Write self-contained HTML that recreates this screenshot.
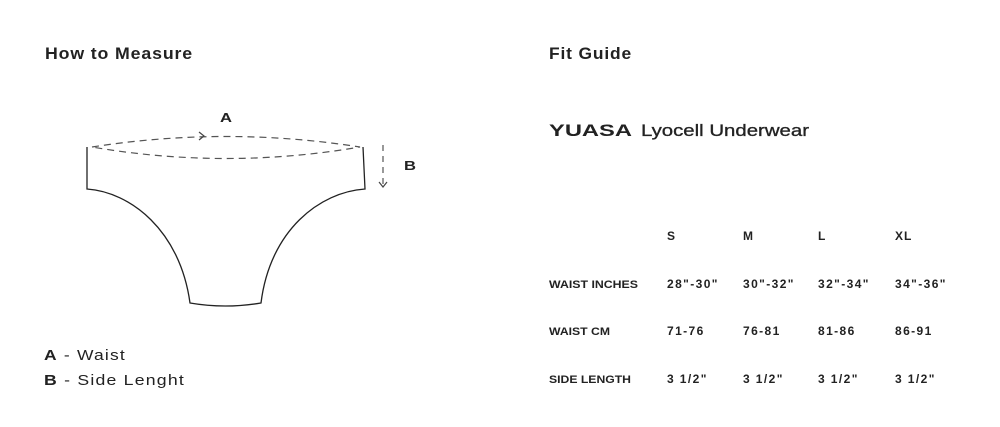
<!DOCTYPE html>
<html><head><meta charset="utf-8"><style>
html,body{margin:0;padding:0;background:#fff;}
svg{display:block;}
text{font-family:"Liberation Sans",Arial,sans-serif;fill:#222;}
</style></head><body>
<svg width="1000" height="427" viewBox="0 0 1000 427" xmlns="http://www.w3.org/2000/svg">
<text x="45" y="59" font-size="16.5" font-weight="bold" letter-spacing="0.8" textLength="148" lengthAdjust="spacingAndGlyphs" fill="#2a2a2a">How to Measure</text>
<text x="549" y="59" font-size="16.5" font-weight="bold" letter-spacing="0.8" textLength="83" lengthAdjust="spacingAndGlyphs" fill="#2a2a2a">Fit Guide</text>

<g fill="none" stroke="#222" stroke-width="1.3">
<path d="M87,147 L87,189 C130,192 180,230 190,303 Q225,309 261,303 C270,230 320,192 365,189 L363,147"/>
</g>
<g fill="none" stroke="#555" stroke-width="1.2" stroke-dasharray="7,5">
<path d="M92,147 Q226,126 360,147 Q226,170 92,147"/>
<path d="M383,145 L383,186" stroke-dasharray="6,5"/>
</g>
<g fill="none" stroke="#444" stroke-width="1.2">
<path d="M199,132 L204,136 L199,140"/>
<path d="M379,182 L383,187 L387,182"/>
</g>
<text x="220" y="122" font-size="13" font-weight="900" textLength="12" lengthAdjust="spacingAndGlyphs">A</text>
<text x="404" y="170" font-size="13" font-weight="900" textLength="12" lengthAdjust="spacingAndGlyphs">B</text>

<text x="44" y="360" font-size="14.5" letter-spacing="1" textLength="82" lengthAdjust="spacingAndGlyphs"><tspan font-weight="900">A</tspan> - Waist</text>
<text x="44" y="385" font-size="14.5" letter-spacing="1" textLength="141" lengthAdjust="spacingAndGlyphs"><tspan font-weight="900">B</tspan> - Side Lenght</text>

<text x="549" y="136" font-size="17" font-weight="900" textLength="83" lengthAdjust="spacingAndGlyphs">YUASA</text>
<text x="641" y="136" font-size="17" fill="#2a2a2a" stroke="#2a2a2a" stroke-width="0.35" textLength="168" lengthAdjust="spacingAndGlyphs">Lyocell Underwear</text>

<g font-size="12" font-weight="900">
<text x="667" y="240">S</text>
<text x="743" y="240">M</text>
<text x="818" y="240">L</text>
<text x="895" y="240" letter-spacing="1">XL</text>
</g>
<g font-size="11" font-weight="bold">
<text x="549" y="288" textLength="89" lengthAdjust="spacingAndGlyphs">WAIST INCHES</text>
<text x="549" y="335" textLength="61" lengthAdjust="spacingAndGlyphs">WAIST CM</text>
<text x="549" y="383" textLength="82" lengthAdjust="spacingAndGlyphs">SIDE LENGTH</text>
</g>
<g font-size="12" font-weight="bold" letter-spacing="1.4">
<text x="667" y="288">28"-30"</text>
<text x="743" y="288">30"-32"</text>
<text x="818" y="288">32"-34"</text>
<text x="895" y="288">34"-36"</text>
<text x="667" y="335">71-76</text>
<text x="743" y="335">76-81</text>
<text x="818" y="335">81-86</text>
<text x="895" y="335">86-91</text>
<text x="667" y="383">3 1/2"</text>
<text x="743" y="383">3 1/2"</text>
<text x="818" y="383">3 1/2"</text>
<text x="895" y="383">3 1/2"</text>
</g>
</svg>
</body></html>
